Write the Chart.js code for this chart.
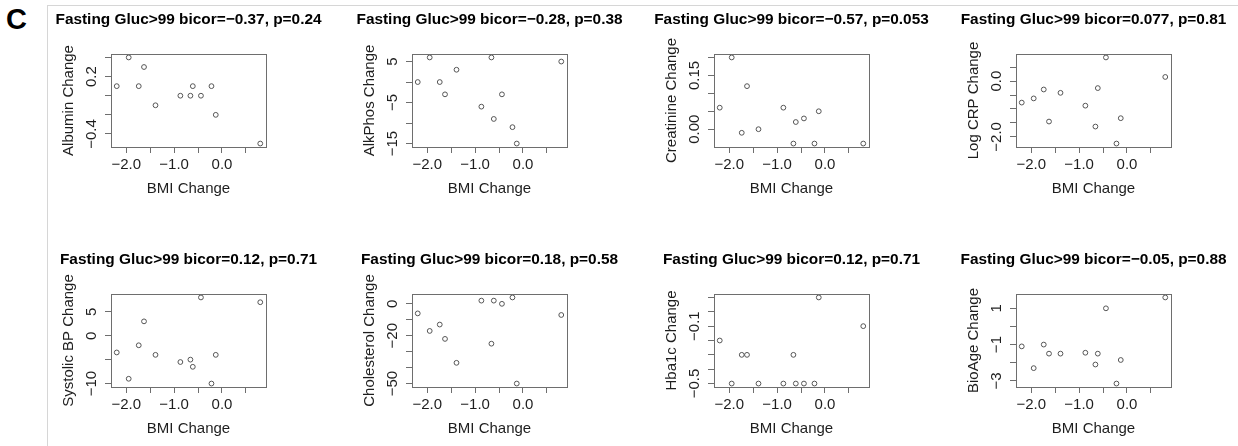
<!DOCTYPE html>
<html>
<head>
<meta charset="utf-8">
<script src="https://cdn.jsdelivr.net/npm/chart.js@4.4.1/dist/chart.umd.min.js"></script>
<style>
  html, body { margin: 0; padding: 0; background: #fff; }
  body { width: 1238px; height: 446px; position: relative; overflow: hidden; }
  #frame { position: absolute; left: 47px; top: 5px; right: 0; bottom: -2px;
           border-left: 1px solid #d6d6d6; border-top: 1px solid #d6d6d6; }
  #panelLetter { position: absolute; left: 6px; top: 3px; line-height: 29px;
                 font: bold 29px "Liberation Sans Narrow", "Liberation Sans", Arial, sans-serif; }
  canvas.panel { position: absolute; }
</style>
</head>
<body>
<div id="frame"></div>
<div id="panelLetter">C</div>
<script>
// same 12 subjects in every panel
const bmiChange = [-2.2, -1.95, -1.74, -1.63, -1.39, -0.87, -0.66, -0.61, -0.44, -0.22, -0.13, 0.8];

const albumin     = [0.1, 0.4, 0.1, 0.3, -0.1, 0, 0, 0.1, 0, 0.1, -0.2, -0.5];
const alkPhos     = [0, 6, 0, -3, 3, -6, 6, -9, -3, -11, -15, 5];
const creatinine  = [0.06, 0.2, -0.01, 0.12, 0, 0.06, -0.04, 0.02, 0.03, -0.04, 0.05, -0.04];
const logCrp      = [-0.77, -0.62, -0.3, -1.45, -0.42, -0.88, -1.63, -0.25, 0.85, -2.24, -1.33, 0.15];
const systolicBp  = [-3.5, -9, -2, 3, -4, -5.5, -5, -6.5, 8, -10, -4, 7];
const cholesterol = [-6, -17, -13, -22, -37, 2, -25, 2, 0, 4, -50, -7];
const hba1c       = [-0.2, -0.5, -0.3, -0.3, -0.5, -0.5, -0.3, -0.5, -0.5, -0.5, 0.1, -0.1];
const bioAge      = [-1.1, -2.3, -1.0, -1.5, -1.5, -1.45, -2.1, -1.5, 1.0, -3.15, -1.85, 1.6];

const titles = [
  'Fasting Gluc>99 bicor=\u22120.37, p=0.24',
  'Fasting Gluc>99 bicor=\u22120.28, p=0.38',
  'Fasting Gluc>99 bicor=\u22120.57, p=0.053',
  'Fasting Gluc>99 bicor=0.077, p=0.81',
  'Fasting Gluc>99 bicor=0.12, p=0.71',
  'Fasting Gluc>99 bicor=0.18, p=0.58',
  'Fasting Gluc>99 bicor=0.12, p=0.71',
  'Fasting Gluc>99 bicor=\u22120.05, p=0.88'
];
const yAxisTitles = ['Albumin Change', 'AlkPhos Change', 'Creatinine Change', 'Log CRP Change',
                     'Systolic BP Change', 'Cholesterol Change', 'Hba1c Change', 'BioAge Change'];

// x axis is the same everywhere
const xTicks = [-2, -1.5, -1, -0.5, 0, 0.5];
const xTickLabels = ['\u22122.0', '', '\u22121.0', '', '0.0', ''];

// y ticks, and the labels R kept ('' = tick only)
const albuminTicks = [-0.4, -0.2, 0, 0.2, 0.4];
const albuminTickLabels = ['\u22120.4', '', '', '0.2', ''];
const alkPhosTicks = [-15, -10, -5, 0, 5];
const alkPhosTickLabels = ['\u221215', '', '\u22125', '', '5'];
const creatinineTicks = [0, 0.05, 0.1, 0.15, 0.2];
const creatinineTickLabels = ['0.00', '', '', '0.15', ''];
const logCrpTicks = [-2, -1.5, -1, -0.5, 0, 0.5];
const logCrpTickLabels = ['\u22122.0', '', '', '', '0.0', ''];
const systolicBpTicks = [-10, -5, 0, 5];
const systolicBpTickLabels = ['\u221210', '', '0', '5'];
const cholesterolTicks = [-50, -40, -30, -20, -10, 0];
const cholesterolTickLabels = ['\u221250', '', '', '\u221220', '', '0'];
const hba1cTicks = [-0.5, -0.4, -0.3, -0.2, -0.1, 0, 0.1];
const hba1cTickLabels = ['\u22120.5', '', '', '', '\u22120.1', '', ''];
const bioAgeTicks = [-3, -2, -1, 0, 1];
const bioAgeTickLabels = ['\u22123', '', '\u22121', '', '1'];

const panels = [
  { values: albumin, ticks: albuminTicks, labels: albuminTickLabels },
  { values: alkPhos, ticks: alkPhosTicks, labels: alkPhosTickLabels },
  { values: creatinine, ticks: creatinineTicks, labels: creatinineTickLabels },
  { values: logCrp, ticks: logCrpTicks, labels: logCrpTickLabels },
  { values: systolicBp, ticks: systolicBpTicks, labels: systolicBpTickLabels },
  { values: cholesterol, ticks: cholesterolTicks, labels: cholesterolTickLabels },
  { values: hba1c, ticks: hba1cTicks, labels: hba1cTickLabels },
  { values: bioAge, ticks: bioAgeTicks, labels: bioAgeTickLabels }
];

const FONT = '"Liberation Sans", Arial, sans-serif';
const axisColor = '#6e6e6e';
const textColor = '#1e1e1e';
const colLeft = [39, 340, 642, 944];
const rowTop = [0, 240];

// R pads the data range by 4% on each side
function rLimits(arr) {
  const lo = Math.min(...arr), hi = Math.max(...arr);
  const pad = (hi - lo) * 0.04;
  return [lo - pad, hi + pad];
}

// box, main title, rotated y labels (R style)
const rPanel = {
  id: 'rPanel',
  afterDraw(chart, args, opts) {
    const { ctx, chartArea: a } = chart;
    const yScale = chart.scales.y;
    ctx.save();
    ctx.strokeStyle = axisColor;
    ctx.lineWidth = 1;
    ctx.strokeRect(Math.round(a.left) + 0.5, Math.round(a.top) + 0.5,
                   Math.round(a.right - a.left), Math.round(a.bottom - a.top));

    ctx.fillStyle = '#000';
    ctx.font = 'bold 15.4px ' + FONT;
    ctx.textAlign = 'center';
    ctx.textBaseline = 'alphabetic';
    ctx.fillText(opts.title, (a.left + a.right) / 2, 24);

    ctx.fillStyle = textColor;
    ctx.font = '15px ' + FONT;
    ctx.textBaseline = 'middle';
    const rot = (txt, x, y) => {
      ctx.save();
      ctx.translate(x, y);
      ctx.rotate(-Math.PI / 2);
      ctx.fillText(txt, 0, 0);
      ctx.restore();
    };
    rot(opts.yTitle, a.left - 42, (a.top + a.bottom) / 2);
    opts.ticks.forEach((v, i) => {
      if (opts.labels[i]) rot(opts.labels[i], a.left - 19.5, yScale.getPixelForValue(v));
    });
    ctx.restore();
  }
};

const [xMin, xMax] = rLimits(bmiChange);

panels.forEach((p, k) => {
  const canvas = document.createElement('canvas');
  canvas.className = 'panel';
  canvas.width = 299;
  canvas.height = 206;
  canvas.style.left = colLeft[k % 4] + 'px';
  canvas.style.top = rowTop[Math.floor(k / 4)] + 'px';
  document.body.appendChild(canvas);

  const [yMin, yMax] = rLimits(p.values);

  new Chart(canvas.getContext('2d'), {
    type: 'scatter',
    data: {
      datasets: [{
        data: bmiChange.map((x, i) => ({ x: x, y: p.values[i] })),
        pointStyle: 'circle',
        pointRadius: 2.4,
        pointBorderWidth: 1,
        pointBorderColor: '#555',
        pointBackgroundColor: 'rgba(0,0,0,0)'
      }]
    },
    options: {
      responsive: false,
      animation: false,
      devicePixelRatio: 1,
      layout: { padding: { top: 54, left: 0, right: 72, bottom: 8 } },
      plugins: {
        legend: { display: false },
        tooltip: { enabled: false },
        rPanel: { title: titles[k], yTitle: yAxisTitles[k], ticks: p.ticks, labels: p.labels }
      },
      scales: {
        x: {
          type: 'linear',
          min: xMin,
          max: xMax,
          afterBuildTicks: s => { s.ticks = xTicks.map(v => ({ value: v })); },
          afterFit: s => { s.height = 51; },
          ticks: {
            autoSkip: false,
            maxRotation: 0,
            padding: 3,
            color: textColor,
            font: { family: FONT, size: 15 },
            callback: (v, i) => xTickLabels[i]
          },
          grid: { drawOnChartArea: false, drawTicks: true, tickLength: 6, color: axisColor },
          border: { display: false },
          title: {
            display: true,
            text: 'BMI Change',
            padding: 0,
            color: textColor,
            font: { family: FONT, size: 15 }
          }
        },
        y: {
          type: 'linear',
          min: yMin,
          max: yMax,
          afterBuildTicks: s => { s.ticks = p.ticks.map(v => ({ value: v })); },
          afterFit: s => { s.width = 72; },
          ticks: { display: false, autoSkip: false },
          grid: { drawOnChartArea: false, drawTicks: true, tickLength: 6, color: axisColor },
          border: { display: false }
        }
      }
    },
    plugins: [rPanel]
  });
});
</script>
</body>
</html>
